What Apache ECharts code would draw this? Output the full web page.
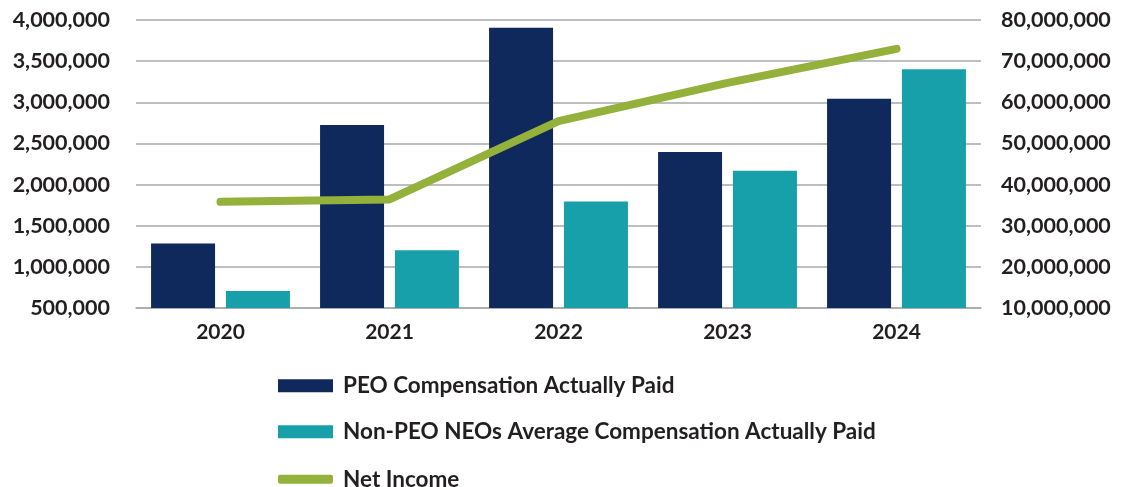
<!DOCTYPE html>
<html>
<head>
<meta charset="utf-8">
<script src="https://cdn.jsdelivr.net/npm/echarts@6/dist/echarts.min.js"></script>
<style>
html,body{margin:0;padding:0;background:#fff;}
#chart{width:1123px;height:487px;}
</style>
</head>
<body>
<div id="chart"></div>
<script>
const years = ['2020', '2021', '2022', '2023', '2024'];
const peoCAP = [1283000, 2724000, 3905000, 2396000, 3044000];
const nonPeoCAP = [707000, 1202000, 1794000, 2168000, 3401000];
const netIncome = [35800000, 36400000, 55400000, 64700000, 73000000];
const leftTicks = { min: 500000, max: 4000000, interval: 500000 };
const rightTicks = { min: 10000000, max: 80000000, interval: 10000000 };
const seriesNames = ['PEO Compensation Actually Paid', 'Non-PEO NEOs Average Compensation Actually Paid', 'Net Income'];

const fmt = v => v.toLocaleString('en-US');
const FONT = 'Lato';
const TXT = '#231f20';
const colors = ['#10295c', '#17a0aa', '#93b13b'];

const chart = echarts.init(document.getElementById('chart'));
function legendAt(name, top, icon, h) {
  return {
    data: [{ name: name, icon: icon }],
    orient: 'vertical', left: 273, top: top,
    itemWidth: 55, itemHeight: h, itemGap: 0,
    textStyle: { fontFamily: FONT, fontWeight: 'bold', fontSize: 22.5, lineHeight: 26, color: TXT, padding: [0, 0, 0, 5] }
  };
}
chart.setOption({
  animation: false,
  grid: { left: 136, right: 142, top: 20, bottom: 179, containLabel: false },
  legend: [
    legendAt(seriesNames[0], 367.7, 'rect', 13),
    legendAt(seriesNames[1], 413.7, 'rect', 13),
    legendAt(seriesNames[2], 461.3, 'roundRect', 9)
  ],
  xAxis: {
    type: 'category', data: years,
    axisLine: { show: true, lineStyle: { color: '#a6a8ab', width: 1.5 } },
    axisTick: { show: false },
    axisLabel: { fontFamily: FONT, fontWeight: 'bold', fontSize: 21, color: TXT, margin: 14 }
  },
  yAxis: [
    {
      type: 'value', min: leftTicks.min, max: leftTicks.max, interval: leftTicks.interval,
      axisLine: { show: false }, axisTick: { show: false },
      splitLine: { lineStyle: { color: '#a6a8ab', width: 1.5 } },
      axisLabel: { formatter: fmt, fontFamily: FONT, fontWeight: 'bold', fontSize: 21.5, color: TXT, margin: 26 }
    },
    {
      type: 'value', min: rightTicks.min, max: rightTicks.max, interval: rightTicks.interval,
      axisLine: { show: false }, axisTick: { show: false },
      splitLine: { show: false },
      axisLabel: { formatter: fmt, fontFamily: FONT, fontWeight: 'bold', fontSize: 21.5, color: TXT, margin: 20 }
    }
  ],
  series: [
    {
      name: seriesNames[0], type: 'bar', data: peoCAP, yAxisIndex: 0,
      barWidth: 64, barGap: '17%',
      itemStyle: { color: colors[0] }
    },
    {
      name: seriesNames[1], type: 'bar', data: nonPeoCAP, yAxisIndex: 0,
      barWidth: 64, barGap: '17%',
      itemStyle: { color: colors[1] }
    },
    {
      name: seriesNames[2], type: 'line', data: netIncome, yAxisIndex: 1,
      symbol: 'none', smooth: false,
      lineStyle: { color: colors[2], width: 8, cap: 'round', join: 'round' },
      itemStyle: { color: colors[2] }
    }
  ]
});
</script>
</body>
</html>
